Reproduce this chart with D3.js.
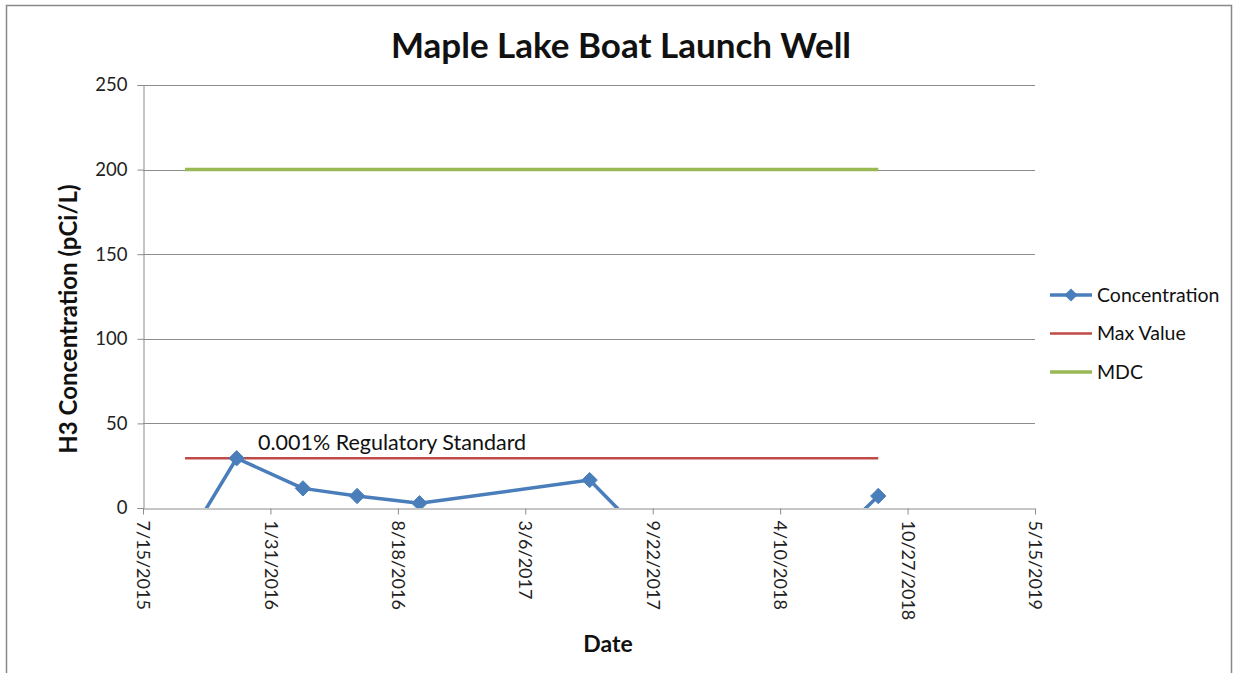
<!DOCTYPE html>
<html>
<head>
<meta charset="utf-8">
<script src="https://cdn.jsdelivr.net/npm/d3@7"></script>
<style>
  body { margin: 0; background: #fff; }
  svg { font-family: Lato, "Open Sans", sans-serif; }
</style>
</head>
<body>
<div id="chart"></div>
<script>
// sample dates and tritium results
const sampleDates = ['9/19/2015', '12/9/2015', '3/22/2016', '6/15/2016', '9/21/2016', '6/15/2017', '2/4/2018', '9/11/2018'];
const concentration = [-21, 29.4, 11.6, 7.1, 2.8, 16.5, -73, 7.1];
const maxValue = 29.4;
const mdc = 200;
const refDates = ['9/19/2015', '9/11/2018'];
const xTicks = ['7/15/2015', '1/31/2016', '8/18/2016', '3/6/2017', '9/22/2017', '4/10/2018', '10/27/2018', '5/15/2019'];
const yTicks = [0, 50, 100, 150, 200, 250];
const legendNames = ['Concentration', 'Max Value', 'MDC'];

const W = 1233, H = 673;
const margin = { left: 143, right: 198, top: 85, bottom: 165 };
const parse = d3.timeParse('%m/%d/%Y');
const fmt = d => `${d.getMonth() + 1}/${d.getDate()}/${d.getFullYear()}`;

const svg = d3.select('#chart').append('svg')
  .attr('width', W)
  .attr('height', H);

// outer chart border
svg.append('rect')
  .attr('x', 6.5).attr('y', 5.5)
  .attr('width', 1225).attr('height', 700)
  .attr('fill', 'none')
  .attr('stroke', '#888')
  .attr('stroke-width', 1.5);

const x = d3.scaleTime()
  .domain([parse(xTicks[0]), parse(xTicks[xTicks.length - 1])])
  .range([margin.left, W - margin.right]);
const y = d3.scaleLinear()
  .domain([0, 250])
  .range([H - margin.bottom, margin.top]);

// gridlines
svg.append('g')
  .selectAll('line')
  .data(yTicks.slice(1))
  .join('line')
  .attr('x1', margin.left).attr('x2', W - margin.right)
  .attr('y1', d => Math.round(y(d)) + 0.5).attr('y2', d => Math.round(y(d)) + 0.5)
  .attr('stroke', '#8c8c8c')
  .attr('stroke-width', 1);

// y axis
const yAxis = svg.append('g')
  .attr('transform', `translate(${margin.left + 0.5},0)`)
  .call(d3.axisLeft(y).tickValues(yTicks).tickSize(6).tickPadding(10));
yAxis.selectAll('path, line').attr('stroke', '#8c8c8c');
yAxis.selectAll('text').attr('font-size', 18.5).attr('fill', '#222').attr('font-family', 'Lato, sans-serif');

// x axis
const xAxis = svg.append('g')
  .attr('transform', `translate(0,${y(0) + 0.5})`)
  .call(d3.axisBottom(x).tickValues(xTicks.map(parse)).tickFormat(fmt).tickSize(6).tickSizeOuter(0));
xAxis.selectAll('path, line').attr('stroke', '#8c8c8c');
xAxis.selectAll('text')
  .attr('font-size', 18)
  .attr('fill', '#222')
  .attr('font-family', 'Lato, sans-serif')
  .attr('text-anchor', 'start')
  .attr('dy', '0.35em')
  .attr('transform', 'rotate(90)')
  .attr('x', 12)
  .attr('y', 0);

// clip for series
svg.append('defs').append('clipPath').attr('id', 'plot-clip')
  .append('rect')
  .attr('x', margin.left).attr('y', margin.top - 5)
  .attr('width', W - margin.left - margin.right)
  .attr('height', y(0) - margin.top + 5);

const plot = svg.append('g').attr('clip-path', 'url(#plot-clip)');

const line = d3.line().x(d => x(d[0])).y(d => y(d[1]));

// MDC
plot.append('path')
  .datum(refDates.map(d => [parse(d), mdc]))
  .attr('d', line)
  .attr('fill', 'none')
  .attr('stroke', '#98b954')
  .attr('stroke-width', 3.5);

// max value
plot.append('path')
  .datum(refDates.map(d => [parse(d), maxValue]))
  .attr('d', line)
  .attr('fill', 'none')
  .attr('stroke', '#be4b48')
  .attr('stroke-width', 2.5);

// concentration
const conc = sampleDates.map((d, i) => [parse(d), concentration[i]]);
plot.append('path')
  .datum(conc)
  .attr('d', line)
  .attr('fill', 'none')
  .attr('stroke', '#4a7ebb')
  .attr('stroke-width', 3.5)
  .attr('stroke-linejoin', 'round');

const diamond = d3.symbol().type(d3.symbolDiamond2).size(150);
plot.append('g')
  .selectAll('path')
  .data(conc)
  .join('path')
  .attr('d', diamond)
  .attr('transform', d => `translate(${x(d[0])},${y(d[1])})`)
  .attr('fill', '#4a7ebb')
  .attr('stroke', '#4a7ebb')
  .attr('stroke-width', 1);

// annotation
svg.append('text')
  .attr('x', 258).attr('y', 450)
  .attr('font-size', 21.5)
  .attr('fill', '#111')
  .text('0.001% Regulatory Standard');

// title
svg.append('text')
  .attr('x', 621).attr('y', 58)
  .attr('text-anchor', 'middle')
  .attr('font-size', 35)
  .attr('font-weight', 'bold')
  .attr('fill', '#111')
  .text('Maple Lake Boat Launch Well');

// axis titles
svg.append('text')
  .attr('x', 608).attr('y', 652)
  .attr('text-anchor', 'middle')
  .attr('font-size', 23)
  .attr('font-weight', 'bold')
  .attr('fill', '#111')
  .text('Date');

svg.append('text')
  .attr('transform', 'translate(77,319) rotate(-90)')
  .attr('text-anchor', 'middle')
  .attr('font-size', 24)
  .attr('font-weight', 'bold')
  .attr('fill', '#111')
  .text('H3 Concentration (pCi/L)');

// legend
const legendColors = ['#4a7ebb', '#be4b48', '#98b954'];
const legendWidths = [3.5, 2.5, 3.5];
const legend = svg.append('g')
  .selectAll('g')
  .data(legendNames)
  .join('g')
  .attr('transform', (d, i) => `translate(1050,${295 + i * 38.5})`);
legend.append('line')
  .attr('x1', 0).attr('x2', 42)
  .attr('stroke', (d, i) => legendColors[i])
  .attr('stroke-width', (d, i) => legendWidths[i]);
legend.filter((d, i) => i === 0).append('path')
  .attr('d', d3.symbol().type(d3.symbolDiamond2).size(110))
  .attr('transform', 'translate(21,0)')
  .attr('fill', '#4a7ebb');
legend.append('text')
  .attr('x', 47).attr('dy', '0.35em')
  .attr('font-size', 19.5)
  .attr('fill', '#111')
  .text(d => d);
</script>
</body>
</html>
